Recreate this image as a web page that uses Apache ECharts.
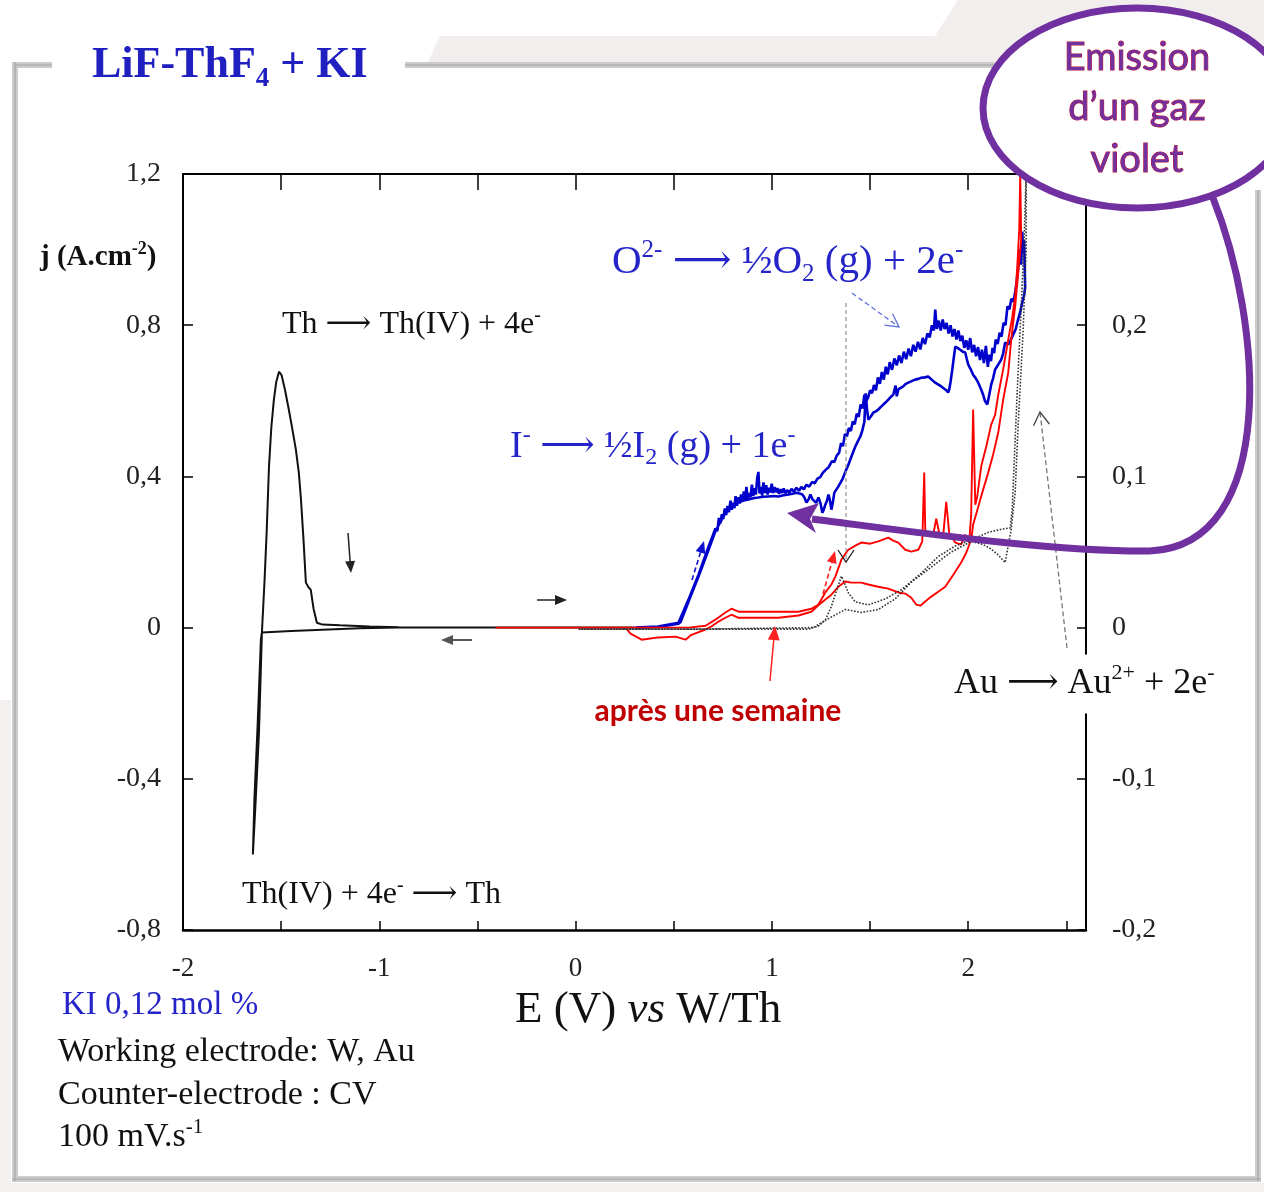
<!DOCTYPE html>
<html>
<head>
<meta charset="utf-8">
<script src="https://cdn.jsdelivr.net/npm/echarts@6/dist/echarts.min.js"></script>
<style>
  html, body { margin: 0; padding: 0; background: #ffffff; }
  #chart { width: 1264px; height: 1192px; }
</style>
</head>
<body>
<div id="chart"></div>
<script>
// Cyclic voltammograms in LiF-ThF4 + KI (E in V vs W/Th, j in A.cm-2)

// W electrode, Th deposition / stripping region  [E, j]
const thScan = [
  [0.30, 0.000], [-0.40, 0.000], [-0.90, 0.000], [-1.10, -0.002], [-1.257, -0.005], [-1.45, -0.009], [-1.598, -0.013],
  [-1.613, -0.278], [-1.630, -0.460], [-1.644, -0.600],
  [-1.636, -0.450], [-1.620, -0.260], [-1.603, -0.030], [-1.598, -0.013],
  [-1.585, 0.120], [-1.574, 0.250], [-1.562, 0.426], [-1.550, 0.530], [-1.537, 0.603], [-1.525, 0.650],
  [-1.511, 0.677], [-1.498, 0.668], [-1.480, 0.628], [-1.461, 0.577], [-1.443, 0.525], [-1.425, 0.471],
  [-1.410, 0.410], [-1.399, 0.339], [-1.387, 0.240], [-1.374, 0.119], [-1.362, 0.108], [-1.349, 0.100],
  [-1.335, 0.050], [-1.318, 0.013], [-1.290, 0.008], [-1.20, 0.006], [-1.05, 0.003], [-0.90, 0.001],
  [-0.40, 0.000], [0.30, 0.000]
];

// W electrode with KI: iodide then oxide oxidation  [E, j]
const kiScan = [
  [0.305, 0.000], [0.420, 0.003], [0.524, 0.013], [0.575, 0.074], [0.626, 0.140], [0.677, 0.214], [0.700, 0.245],
  [0.712, 0.262], [0.722, 0.255], [0.730, 0.290], [0.738, 0.276], [0.745, 0.300], [0.752, 0.287], [0.760, 0.315],
  [0.767, 0.298], [0.774, 0.322], [0.781, 0.305], [0.789, 0.336], [0.795, 0.312], [0.802, 0.330], [0.809, 0.316],
  [0.815, 0.348], [0.822, 0.322], [0.830, 0.345], [0.836, 0.328], [0.843, 0.352], [0.850, 0.333], [0.857, 0.360],
  [0.864, 0.338], [0.870, 0.372], [0.877, 0.341], [0.884, 0.356], [0.891, 0.345], [0.898, 0.378], [0.905, 0.348],
  [0.911, 0.369], [0.918, 0.352], [0.925, 0.395], [0.931, 0.412], [0.937, 0.355], [0.944, 0.372], [0.950, 0.350],
  [0.957, 0.384], [0.964, 0.356], [0.971, 0.377], [0.978, 0.352], [0.985, 0.370], [0.992, 0.357], [0.999, 0.381],
  [1.006, 0.356], [1.013, 0.372], [1.020, 0.358], [1.028, 0.369], [1.036, 0.354], [1.044, 0.366], [1.052, 0.356],
  [1.060, 0.368], [1.069, 0.355], [1.078, 0.364], [1.089, 0.357], [1.100, 0.367], [1.112, 0.360], [1.125, 0.370],
  [1.138, 0.362], [1.150, 0.372], [1.163, 0.366], [1.176, 0.378], [1.190, 0.373], [1.204, 0.385], [1.218, 0.382],
  [1.232, 0.394], [1.246, 0.398], [1.260, 0.410], [1.275, 0.418], [1.290, 0.425], [1.305, 0.440], [1.318, 0.438],
  [1.330, 0.455], [1.342, 0.462], [1.352, 0.488], [1.362, 0.480], [1.372, 0.512], [1.382, 0.506], [1.392, 0.528],
  [1.402, 0.520], [1.412, 0.545], [1.422, 0.538], [1.432, 0.566], [1.442, 0.558], [1.452, 0.590], [1.462, 0.580],
  [1.471, 0.616], [1.480, 0.598], [1.491, 0.610], [1.500, 0.628], [1.510, 0.620], [1.520, 0.642], [1.530, 0.628],
  [1.540, 0.662], [1.550, 0.645], [1.560, 0.676], [1.570, 0.656], [1.580, 0.690], [1.590, 0.670], [1.600, 0.702],
  [1.612, 0.682], [1.624, 0.712], [1.636, 0.694], [1.648, 0.720], [1.660, 0.700], [1.672, 0.730], [1.684, 0.710],
  [1.696, 0.738], [1.708, 0.718], [1.720, 0.748], [1.732, 0.730], [1.744, 0.756], [1.756, 0.736], [1.768, 0.766],
  [1.780, 0.750], [1.792, 0.778], [1.804, 0.768], [1.815, 0.800], [1.825, 0.786], [1.832, 0.841], [1.840, 0.790],
  [1.850, 0.812], [1.860, 0.786], [1.870, 0.815], [1.880, 0.790], [1.890, 0.806], [1.900, 0.778], [1.910, 0.800],
  [1.920, 0.770], [1.930, 0.790], [1.940, 0.762], [1.950, 0.786], [1.960, 0.758], [1.970, 0.772], [1.980, 0.740],
  [1.990, 0.760], [2.000, 0.735], [2.010, 0.766], [2.020, 0.728], [2.030, 0.748], [2.040, 0.718], [2.050, 0.742],
  [2.060, 0.708], [2.070, 0.735], [2.080, 0.700], [2.090, 0.745], [2.100, 0.690], [2.108, 0.722], [2.116, 0.705],
  [2.124, 0.740], [2.132, 0.726], [2.140, 0.762], [2.150, 0.750], [2.160, 0.780], [2.170, 0.770], [2.180, 0.806],
  [2.190, 0.800], [2.200, 0.850], [2.210, 0.842], [2.220, 0.870], [2.230, 0.862], [2.240, 0.890], [2.248, 0.920],
  [2.256, 0.960], [2.264, 1.000], [2.270, 0.960], [2.275, 1.048], [2.280, 0.990], [2.285, 1.026], [2.288, 0.950],
  [2.290, 0.900],
  // return sweep
  [2.285, 0.880], [2.275, 0.860], [2.265, 0.835], [2.254, 0.815], [2.242, 0.790], [2.229, 0.775], [2.216, 0.760],
  [2.204, 0.749], [2.188, 0.754], [2.178, 0.725], [2.168, 0.709], [2.153, 0.696], [2.137, 0.683], [2.127, 0.660],
  [2.117, 0.643], [2.107, 0.615], [2.097, 0.590], [2.092, 0.585], [2.085, 0.600], [2.076, 0.616], [2.066, 0.630],
  [2.051, 0.648], [2.038, 0.660], [2.025, 0.669], [2.012, 0.684], [2.000, 0.696], [1.992, 0.712], [1.985, 0.728],
  [1.972, 0.730], [1.959, 0.735], [1.946, 0.740], [1.934, 0.743], [1.926, 0.712], [1.919, 0.683], [1.910, 0.650],
  [1.903, 0.630], [1.898, 0.622], [1.888, 0.628], [1.878, 0.630], [1.863, 0.638], [1.848, 0.643], [1.832, 0.648],
  [1.814, 0.656], [1.796, 0.664], [1.778, 0.662], [1.761, 0.661], [1.745, 0.658], [1.730, 0.656], [1.712, 0.652],
  [1.695, 0.648], [1.680, 0.644], [1.669, 0.638], [1.656, 0.634], [1.644, 0.630], [1.636, 0.612], [1.630, 0.640],
  [1.618, 0.616], [1.605, 0.610], [1.593, 0.603], [1.580, 0.596], [1.567, 0.590], [1.555, 0.584], [1.542, 0.577],
  [1.530, 0.572], [1.517, 0.569], [1.503, 0.558], [1.491, 0.550], [1.484, 0.580], [1.478, 0.620], [1.471, 0.545],
  [1.460, 0.520], [1.450, 0.505], [1.437, 0.492], [1.425, 0.479], [1.412, 0.462], [1.399, 0.444], [1.389, 0.430],
  [1.379, 0.418], [1.369, 0.405], [1.359, 0.392], [1.348, 0.382], [1.338, 0.373], [1.328, 0.365], [1.318, 0.357],
  [1.310, 0.330], [1.303, 0.312], [1.295, 0.338], [1.288, 0.352], [1.280, 0.335], [1.272, 0.325], [1.264, 0.312],
  [1.257, 0.304], [1.247, 0.330], [1.237, 0.344], [1.226, 0.330], [1.216, 0.325], [1.206, 0.340], [1.196, 0.352],
  [1.186, 0.338], [1.176, 0.331], [1.165, 0.345], [1.155, 0.352], [1.140, 0.355], [1.125, 0.357], [1.105, 0.354],
  [1.084, 0.352], [1.060, 0.350], [1.033, 0.347], [1.008, 0.348], [0.982, 0.347], [0.956, 0.346], [0.931, 0.344],
  [0.905, 0.342], [0.880, 0.339], [0.855, 0.336], [0.830, 0.331], [0.804, 0.322], [0.779, 0.312], [0.758, 0.298],
  [0.738, 0.280], [0.712, 0.255], [0.677, 0.205], [0.626, 0.135], [0.575, 0.068], [0.535, 0.015], [0.524, 0.010],
  [0.422, 0.002], [0.305, 0.000]
];

// Same bath one week later  [E, j]
const weekScan = [
  [-0.407, 0.000], [0.117, 0.000], [0.575, 0.000], [0.662, 0.005], [0.712, 0.021], [0.763, 0.040], [0.794, 0.050],
  [0.830, 0.042], [0.931, 0.042], [1.033, 0.042], [1.135, 0.042], [1.201, 0.050], [1.237, 0.061], [1.272, 0.093],
  [1.303, 0.114], [1.323, 0.135], [1.354, 0.180], [1.389, 0.206], [1.425, 0.217], [1.455, 0.225], [1.501, 0.222],
  [1.542, 0.228], [1.593, 0.238], [1.618, 0.230], [1.644, 0.225], [1.679, 0.206], [1.710, 0.201], [1.746, 0.206],
  [1.766, 0.228], [1.776, 0.410], [1.781, 0.259], [1.807, 0.241], [1.822, 0.246], [1.837, 0.288], [1.852, 0.251],
  [1.873, 0.246], [1.888, 0.333], [1.903, 0.251], [1.934, 0.225], [1.964, 0.220], [1.985, 0.246], [2.005, 0.225],
  [2.015, 0.299], [2.025, 0.577], [2.036, 0.325], [2.046, 0.347], [2.066, 0.426], [2.092, 0.479], [2.117, 0.537],
  [2.137, 0.563], [2.153, 0.616], [2.178, 0.683], [2.204, 0.762], [2.224, 0.820], [2.239, 0.876], [2.249, 0.947],
  [2.260, 1.053], [2.265, 1.200],
  // return sweep
  [2.275, 1.200], [2.270, 1.026], [2.254, 0.934], [2.239, 0.849], [2.219, 0.762], [2.204, 0.675], [2.178, 0.603],
  [2.153, 0.516], [2.127, 0.458], [2.102, 0.410], [2.076, 0.365], [2.051, 0.320], [2.025, 0.272], [2.015, 0.233],
  [1.990, 0.198], [1.964, 0.172], [1.924, 0.140], [1.883, 0.108], [1.847, 0.095], [1.812, 0.082], [1.781, 0.069],
  [1.756, 0.058], [1.735, 0.061], [1.710, 0.079], [1.679, 0.090], [1.644, 0.093], [1.593, 0.103], [1.542, 0.108],
  [1.491, 0.114], [1.455, 0.119], [1.405, 0.119], [1.374, 0.122], [1.338, 0.108], [1.303, 0.087], [1.252, 0.066],
  [1.201, 0.042], [1.135, 0.032], [1.033, 0.026], [0.931, 0.026], [0.830, 0.026], [0.794, 0.034], [0.763, 0.026],
  [0.728, 0.016], [0.692, 0.003], [0.662, -0.005], [0.590, -0.019], [0.560, -0.032], [0.509, -0.024],
  [0.422, -0.026], [0.336, -0.032], [0.280, -0.016], [0.254, 0.000], [-0.087, 0.000], [-0.407, 0.000]
];

// Au electrode (right-hand scale)  [E, j]
const auScan = [
  [0.015, -0.001], [0.371, -0.001], [0.626, -0.001], [0.931, -0.001], [1.186, -0.001], [1.237, 0.001], [1.272, 0.005],
  [1.303, 0.014], [1.328, 0.024], [1.354, 0.034], [1.374, 0.028], [1.389, 0.023], [1.425, 0.017], [1.491, 0.015],
  [1.578, 0.019], [1.659, 0.025], [1.761, 0.036], [1.847, 0.047], [1.934, 0.054], [2.015, 0.058], [2.102, 0.063],
  [2.168, 0.065], [2.214, 0.066], [2.224, 0.078], [2.239, 0.124], [2.254, 0.169], [2.270, 0.212], [2.285, 0.257],
  [2.295, 0.300],
  [2.305, 0.300], [2.295, 0.250], [2.280, 0.197], [2.254, 0.133], [2.239, 0.089], [2.219, 0.065], [2.188, 0.043],
  [2.153, 0.048], [2.117, 0.052], [2.076, 0.055], [2.015, 0.057], [1.913, 0.050], [1.812, 0.040], [1.710, 0.030],
  [1.628, 0.019], [1.542, 0.012], [1.455, 0.010], [1.374, 0.012], [1.303, 0.007], [1.262, 0.004], [1.211, 0.000],
  [0.626, -0.001], [0.015, -0.001]
];

// Axis ranges and tick steps
const xRange = [-2, 2.6], xStep = 0.5;
const jRange = [-0.8, 1.2], jStep = 0.4;
const jAuRange = [-0.2, 0.3], jAuStep = 0.1;

const SERIF = "'Liberation Serif', 'DejaVu Serif', 'DejaVu Sans', serif";
const SANS = "Lato, 'Open Sans', sans-serif";
const BLUE_TXT = '#2424c8';
const ARROW = '\u27F6';

function commaNum(v) {
  const r = Math.round(v * 10) / 10;
  return r === 0 ? '0' : r.toFixed(1).replace('.', ',');
}

// rich-text styles: normal, italic, superscript, subscript
function richSet(size, color, weight) {
  const w = weight || 'normal';
  const s = Math.round(size * 0.62);
  return {
    n: { fontSize: size, fontFamily: SERIF, fill: color, fontWeight: w, lineHeight: Math.round(size * 1.2) },
    i: { fontSize: size, fontFamily: SERIF, fill: color, fontWeight: w, fontStyle: 'italic', lineHeight: Math.round(size * 1.2) },
    sup: { fontSize: s, fontFamily: SERIF, fill: color, fontWeight: w, verticalAlign: 'top', lineHeight: Math.round(s * 1.1) },
    sub: { fontSize: s, fontFamily: SERIF, fill: color, fontWeight: w, verticalAlign: 'bottom', lineHeight: Math.round(s * 1.1) }
  };
}

function label(x, y, text, size, color, extra) {
  const e = extra || {};
  const style = Object.assign({
    x: x, y: y, text: text,
    rich: richSet(size, color, e.weight),
    align: e.align || 'left', verticalAlign: 'middle',
    textAlign: e.align || 'left', textVerticalAlign: 'middle',
    fill: color
  }, e.style || {});
  return { type: 'text', z: e.z || 60, style: style };
}

function arrow(p, q, o) {
  const dx = q[0] - p[0], dy = q[1] - p[1], L = Math.hypot(dx, dy);
  const ux = dx / L, uy = dy / L, nx = -uy, ny = ux;
  const hl = o.hl || 10, hw = o.hw || 5;
  const bx = q[0] - ux * hl, by = q[1] - uy * hl;
  const z = o.z || 60;
  const els = [];
  const end = o.head === 'fill' ? [bx + ux * 2, by + uy * 2] : q;
  els.push({ type: 'line', z: z, shape: { x1: p[0], y1: p[1], x2: end[0], y2: end[1] },
    style: { stroke: o.color, lineWidth: o.width || 1.5, lineDash: o.dash || null } });
  if (o.head === 'fill') {
    els.push({ type: 'polygon', z: z, shape: { points: [q, [bx + nx * hw, by + ny * hw], [bx - nx * hw, by - ny * hw]] },
      style: { fill: o.color } });
  } else {
    els.push({ type: 'polyline', z: z, shape: { points: [[bx + nx * hw, by + ny * hw], q, [bx - nx * hw, by - ny * hw]] },
      style: { stroke: o.headColor || o.color, lineWidth: o.headWidth || o.width || 1.5, fill: null } });
  }
  return els;
}

const chart = echarts.init(document.getElementById('chart'), null, { renderer: 'canvas' });

const axisLineStyle = { color: '#000', width: 2 };
const tickFont = { fontFamily: SERIF, fontSize: 28, color: '#222' };

const graphics = [];

// page decoration and frame
graphics.push({ type: 'polygon', z: -5, shape: { points: [[428, 62], [440, 36], [935, 36], [958, 0], [1264, 0], [1264, 62]] },
  style: { fill: '#f2eeee' } });
graphics.push({ type: 'rect', z: -5, shape: { x: 0, y: 1183, width: 1264, height: 9 }, style: { fill: '#f4f0f0' } });
graphics.push({ type: 'rect', z: -5, shape: { x: 0, y: 700, width: 11, height: 492 }, style: { fill: '#f4f0f0' } });
const frameSegs = [
  [[15, 65], [52, 65]], [[405, 65], [1010, 65]], [[15, 62], [15, 1181]], [[12, 1179], [1261, 1179]], [[1258, 190], [1258, 1181]]
];
frameSegs.forEach(function (s) {
  graphics.push({ type: 'line', z: -4, shape: { x1: s[0][0], y1: s[0][1], x2: s[1][0], y2: s[1][1] },
    style: { stroke: '#cbcbcb', lineWidth: 6 } });
  graphics.push({ type: 'line', z: -3, shape: { x1: s[0][0], y1: s[0][1], x2: s[1][0], y2: s[1][1] },
    style: { stroke: '#a5a5a5', lineWidth: 1.2 } });
});

// titles and axis names
graphics.push(label(92, 66, '{n|LiF-ThF}{sub|4}{n| + KI}', 44, '#2020c0', { weight: 'bold' }));
graphics.push(label(40, 258, '{n|j (A.cm}{sup|-2}{n|)}', 29, '#111', { weight: 'bold' }));
graphics.push(label(515, 1010, '{n|E (V) }{i|vs}{n| W/Th}', 45, '#111'));

// reaction labels
graphics.push(label(282, 325, '{n|Th ' + ARROW + ' Th(IV) + 4e}{sup|-}', 32, '#111'));
graphics.push(label(242, 895, '{n|Th(IV) + 4e}{sup|-}{n| ' + ARROW + ' Th}', 32, '#111'));
graphics.push(label(612, 262, '{n|O}{sup|2-}{n| ' + ARROW + ' ½O}{sub|2}{n| (g) + 2e}{sup|-}', 41, BLUE_TXT));
graphics.push(label(510, 447, '{n|I}{sup|-}{n| ' + ARROW + ' ½I}{sub|2}{n| (g) + 1e}{sup|-}', 38, BLUE_TXT));
graphics.push(label(950, 684, '{n|Au ' + ARROW + ' Au}{sup|2+}{n| + 2e}{sup|-}', 36, '#111',
  { z: 70, style: { backgroundColor: '#ffffff', padding: [8, 4, 8, 4] } }));
graphics.push({ type: 'text', z: 60, style: { x: 718, y: 711, text: 'après une semaine', fill: '#c00000',
  font: 'bold 30px ' + SANS, align: 'center', verticalAlign: 'middle', textAlign: 'center', textVerticalAlign: 'middle' } });

// experimental conditions
graphics.push(label(62, 1005, '{n|KI 0,12 mol %}', 33, BLUE_TXT));
graphics.push(label(58, 1052, '{n|Working electrode: W, Au}', 34, '#111'));
graphics.push(label(58, 1095, '{n|Counter-electrode : CV}', 34, '#111'));
graphics.push(label(58, 1137, '{n|100 mV.s}{sup|-1}', 34, '#111'));

// sweep-direction and pointer arrows
[].concat(
  arrow([348, 533], [351, 573], { color: '#222', width: 1.5, head: 'fill', hl: 12, hw: 5 }),
  arrow([537, 600], [567, 600], { color: '#222', width: 1.5, head: 'fill', hl: 12, hw: 5 }),
  arrow([472, 640], [441, 640], { color: '#555', width: 2, head: 'fill', hl: 12, hw: 5 }),
  arrow([692, 580], [704, 541], { color: '#1010d0', width: 1.6, dash: [5, 3], head: 'fill', hl: 12, hw: 5 }),
  arrow([823, 594], [835, 551], { color: '#ff2020', width: 1.6, dash: [5, 3], head: 'fill', hl: 12, hw: 5 }),
  arrow([770, 681], [775, 626], { color: '#ff2020', width: 1.5, head: 'fill', hl: 14, hw: 6 }),
  arrow([852, 293], [899, 327], { color: '#6272dc', width: 1.3, dash: [5, 3], head: 'open', hl: 13, hw: 7 }),
  arrow([846, 303], [846, 562], { color: '#9a9a9a', width: 1.3, dash: [4, 3], head: 'open', hl: 12, hw: 8, headColor: '#222' }),
  arrow([1067, 648], [1040, 412], { color: '#777', width: 1.3, dash: [5, 3], head: 'open', hl: 13, hw: 8, headColor: '#444' })
).forEach(function (e) { graphics.push(e); });

// callout: tail, arrowhead, bubble and its text
const PURPLE = '#7030a0';
graphics.push({ type: 'bezierCurve', z: 80, shape: { x1: 1213, y1: 198, cpx1: 1262, cpy1: 320, cpx2: 1280, cpy2: 545, x2: 1150, y2: 551 },
  style: { stroke: PURPLE, lineWidth: 7, fill: null } });
graphics.push({ type: 'bezierCurve', z: 80, shape: { x1: 1150, y1: 551, cpx1: 1050, cpy1: 552, cpx2: 900, cpy2: 530, x2: 812, y2: 519 },
  style: { stroke: PURPLE, lineWidth: 7, fill: null } });
graphics.push({ type: 'polygon', z: 81, shape: { points: [[787, 513], [819, 503], [810, 519], [816, 533]] },
  style: { fill: PURPLE } });
graphics.push({ type: 'ellipse', z: 82, shape: { cx: 1137, cy: 108, rx: 154, ry: 100 },
  style: { fill: '#ffffff', stroke: PURPLE, lineWidth: 7 } });
[['Emission', 58], ['d\u2019un gaz', 108], ['violet', 160]].forEach(function (t) {
  graphics.push({ type: 'text', z: 83, style: { x: 1137, y: t[1], text: t[0], font: '38px ' + SANS, fill: PURPLE,
    stroke: '#c0102a', lineWidth: 1, align: 'center', verticalAlign: 'middle', textAlign: 'center', textVerticalAlign: 'middle' } });
});

const option = {
  animation: false,
  backgroundColor: '#ffffff',
  grid: { left: 183, top: 174, right: 178, bottom: 262, containLabel: false },
  xAxis: [
    {
      type: 'value', position: 'bottom', min: xRange[0], max: xRange[1], interval: xStep,
      axisLine: { onZero: false, lineStyle: { color: '#000', width: 2.5 } },
      axisTick: { inside: true, length: 9, lineStyle: { color: '#000', width: 1.5 } },
      splitLine: { show: false },
      axisLabel: { margin: 25, fontSize: 27, fontFamily: SERIF, color: '#222',
        formatter: function (v) { return Math.abs(v - Math.round(v)) < 1e-6 ? String(Math.round(v)) : ''; } }
    },
    {
      type: 'value', position: 'top', min: xRange[0], max: xRange[1], interval: xStep,
      axisLine: { onZero: false, lineStyle: axisLineStyle },
      axisTick: { inside: true, length: 16, lineStyle: { color: '#000', width: 1.5 } },
      splitLine: { show: false }, axisLabel: { show: false }
    }
  ],
  yAxis: [
    {
      type: 'value', position: 'left', min: jRange[0], max: jRange[1], interval: jStep,
      axisLine: { onZero: false, lineStyle: axisLineStyle },
      axisTick: { inside: true, length: 10, lineStyle: { color: '#000', width: 1.5 } },
      splitLine: { show: false },
      axisLabel: Object.assign({ margin: 22, formatter: commaNum }, tickFont)
    },
    {
      type: 'value', position: 'right', min: jAuRange[0], max: jAuRange[1], interval: jAuStep,
      axisLine: { onZero: false, lineStyle: axisLineStyle },
      axisTick: { inside: true, length: 9, lineStyle: { color: '#000', width: 1.5 } },
      splitLine: { show: false },
      axisLabel: Object.assign({ margin: 26, formatter: function (v) { return v > 0.25 ? '' : commaNum(v); } }, tickFont)
    }
  ],
  series: [
    { name: 'W', type: 'line', data: thScan, symbol: 'none', lineStyle: { color: '#111', width: 2 }, z: 3 },
    { name: 'KI', type: 'line', data: kiScan, symbol: 'none', lineStyle: { color: '#0000cc', width: 2.6 }, z: 4 },
    { name: 'après une semaine', type: 'line', data: weekScan, symbol: 'none', lineStyle: { color: '#ff0000', width: 1.9 }, z: 5 },
    { name: 'Au', type: 'line', yAxisIndex: 1, data: auScan, symbol: 'none', lineStyle: { color: '#333', width: 1.6, type: 'dotted' }, z: 6 }
  ],
  graphic: { elements: graphics }
};

chart.setOption(option);
</script>
</body>
</html>
